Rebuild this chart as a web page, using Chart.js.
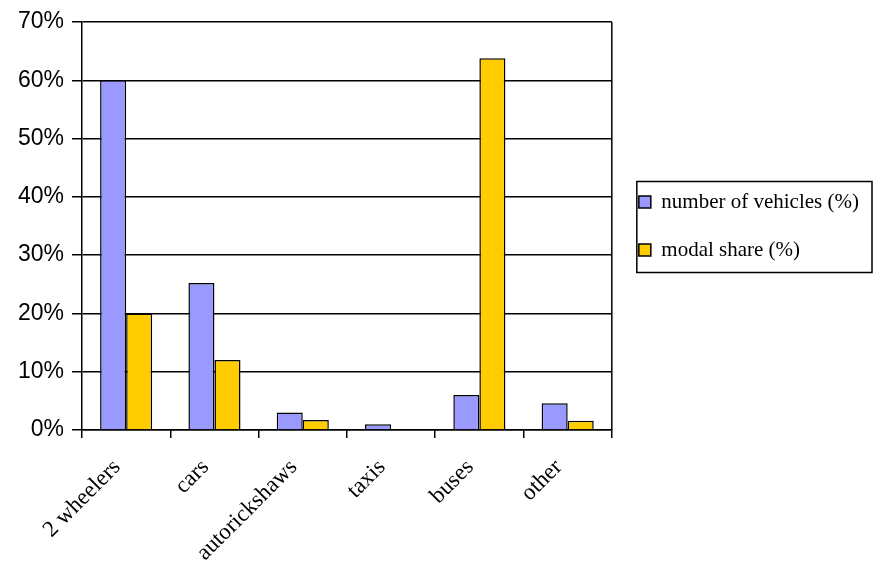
<!DOCTYPE html>
<html>
<head>
<meta charset="utf-8">
<script src="https://cdn.jsdelivr.net/npm/chart.js@4.4.1/dist/chart.umd.min.js"></script>
<style>
    html, body { margin: 0; padding: 0; background: #fff; }
    #wrap { width: 882px; height: 566px; }
</style>
</head>
<body>
<div id="wrap"><canvas id="chart"></canvas></div>
<script>
const categories = ['2 wheelers', 'cars', 'autorickshaws', 'taxis', 'buses', 'other'];
const vehicleShare = [60, 25.2, 3, 1, 6, 4.6];
const modalShare = [20, 12, 1.7, 0, 63.8, 1.6];
const seriesNames = ['number of vehicles (%)', 'modal share (%)'];

// frame round the legend items plus the right edge of the plot
const framePlugin = {
    id: 'framePlugin',
    afterDraw(chart) {
        const ctx = chart.ctx;
        const area = chart.chartArea;
        ctx.save();
        ctx.strokeStyle = '#000';
        ctx.lineWidth = 1.5;
        ctx.beginPath();
        ctx.moveTo(area.right, area.top);
        ctx.lineTo(area.right, area.bottom);
        ctx.stroke();

        const boxes = chart.legend.legendHitBoxes;
        if (boxes && boxes.length) {
            let left = Infinity, right = -Infinity, top = Infinity, bottom = -Infinity;
            boxes.forEach(b => {
                left = Math.min(left, b.left);
                right = Math.max(right, b.left + b.width);
                top = Math.min(top, b.top);
                bottom = Math.max(bottom, b.top + b.height);
            });
            ctx.lineWidth = 1.5;
            ctx.strokeRect(left - 2, top - 10, right - left + 15, bottom - top + 22);
        }
        ctx.restore();
    }
};

new Chart(document.getElementById('chart'), {
    type: 'bar',
    data: {
        labels: categories,
        datasets: [
            {
                label: seriesNames[0],
                data: vehicleShare,
                backgroundColor: '#9999ff',
                borderColor: '#000',
                borderWidth: 1.5,
                categoryPercentage: 0.59,
                barPercentage: 1
            },
            {
                label: seriesNames[1],
                data: modalShare,
                backgroundColor: '#ffcc00',
                borderColor: '#000',
                borderWidth: 1.5,
                categoryPercentage: 0.59,
                barPercentage: 1
            }
        ]
    },
    plugins: [framePlugin],
    options: {
        responsive: true,
        maintainAspectRatio: false,
        animation: false,
        layout: { padding: { top: 22, left: 0, right: 13, bottom: 0 } },
        plugins: {
            tooltip: { enabled: false },
            legend: {
                position: 'right',
                fullSize: false,
                maxWidth: 300,
                labels: {
                    boxWidth: 12,
                    boxHeight: 12,
                    padding: 27,
                    color: '#000',
                    font: { family: 'Liberation Serif', size: 21 }
                }
            }
        },
        scales: {
            x: {
                afterFit: (scale) => { scale.height = 136; },
                grid: {
                    drawOnChartArea: false,
                    color: '#000',
                    lineWidth: 1.5,
                    tickLength: 8
                },
                border: { color: '#000', width: 1.5 },
                ticks: {
                    color: '#000',
                    minRotation: 45,
                    maxRotation: 45,
                    autoSkip: false,
                    padding: 16,
                    labelOffset: -9,
                    font: { family: 'Liberation Serif', size: 23 }
                }
            },
            y: {
                min: 0,
                max: 70,
                afterFit: (scale) => { scale.width = 82; },
                grid: {
                    color: '#000',
                    lineWidth: 1.5,
                    tickLength: 10
                },
                border: { color: '#000', width: 1.5 },
                ticks: {
                    stepSize: 10,
                    padding: 8,
                    color: '#000',
                    font: { family: 'Liberation Sans', size: 23 },
                    callback: (v) => v + '%'
                }
            }
        }
    }
});
</script>
</body>
</html>
